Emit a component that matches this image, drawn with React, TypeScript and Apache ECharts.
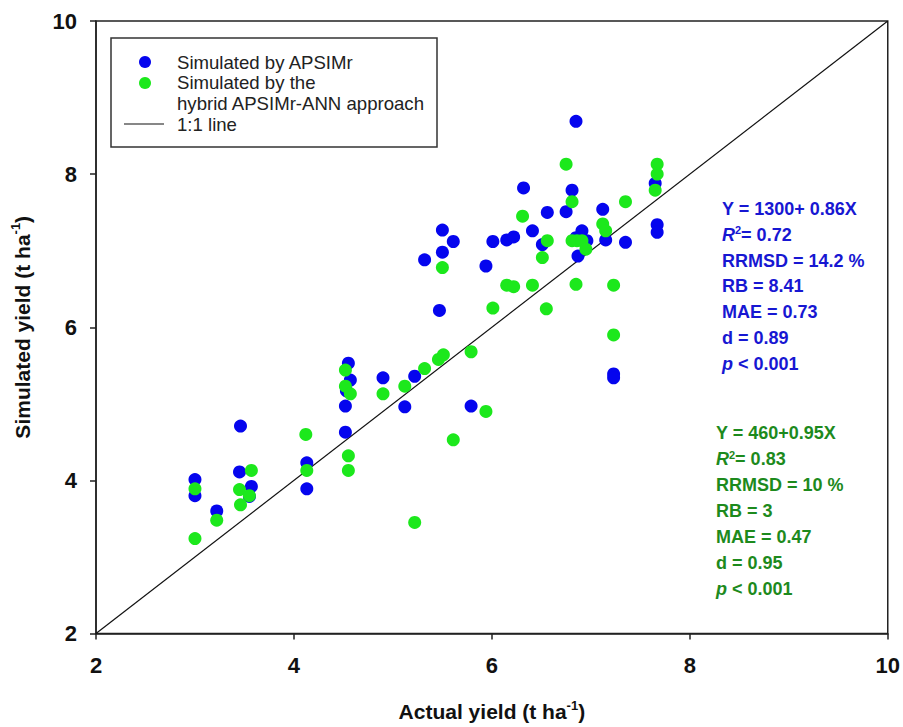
import React, { useEffect, useRef } from "react";
import * as echarts from "echarts";

// Actual vs simulated yield (t ha-1)
const apsimActual = [3.0, 3.0, 3.22, 3.46, 3.45, 3.57, 3.55, 4.13, 4.13, 4.55, 4.57, 4.53, 4.52, 4.52, 4.9, 5.12, 5.22, 5.47, 5.5, 5.61, 5.5, 5.32, 5.94, 6.01, 6.15, 6.22, 6.56, 6.75, 6.41, 6.51, 6.85, 6.91, 6.96, 6.87, 7.12, 7.15, 7.35, 6.85, 7.65, 6.32, 6.81, 7.67, 7.67, 7.23, 7.23, 5.79];
const apsimSimulated = [4.01, 3.8, 3.6, 4.71, 4.11, 3.92, 3.79, 4.23, 3.89, 5.53, 5.31, 5.17, 4.97, 4.63, 5.34, 4.96, 5.36, 6.22, 7.27, 7.12, 6.98, 6.88, 6.8, 7.12, 7.14, 7.18, 7.5, 7.51, 7.26, 7.08, 7.17, 7.26, 7.13, 6.93, 7.54, 7.14, 7.11, 8.69, 7.88, 7.82, 7.79, 7.34, 7.24, 5.39, 5.34, 4.97];

const hybridActual = [3.0, 3.0, 3.22, 3.45, 3.46, 3.57, 3.55, 4.13, 4.12, 4.52, 4.52, 4.57, 4.55, 4.55, 4.9, 5.12, 5.32, 5.46, 5.51, 5.79, 6.01, 6.55, 6.15, 6.22, 6.41, 6.85, 7.23, 7.23, 5.5, 6.31, 6.56, 6.51, 6.81, 6.86, 6.91, 6.95, 6.81, 7.12, 7.15, 7.35, 6.75, 7.67, 7.67, 7.65, 5.94, 5.61, 5.22];
const hybridSimulated = [3.89, 3.24, 3.48, 3.88, 3.68, 4.13, 3.8, 4.13, 4.6, 5.44, 5.23, 5.13, 4.32, 4.13, 5.13, 5.23, 5.46, 5.58, 5.64, 5.68, 6.25, 6.24, 6.55, 6.53, 6.55, 6.56, 6.55, 5.9, 6.78, 7.45, 7.13, 6.91, 7.13, 7.13, 7.13, 7.02, 7.64, 7.35, 7.26, 7.64, 8.13, 8.13, 8.0, 7.79, 4.9, 4.53, 3.45];

const oneToOne = [2, 10];
const axisTicks = [2, 4, 6, 8, 10];

const legendLabels = ["Simulated by APSIMr", "Simulated by the", "hybrid APSIMr-ANN approach", "1:1 line"];
const apsimStats = ["Y = 1300+ 0.86X", "R2|= 0.72", "RRMSD = 14.2 %", "RB = 8.41", "MAE = 0.73", "d = 0.89", "p|< 0.001"];
const hybridStats = ["Y = 460+0.95X", "R2|= 0.83", "RRMSD = 10 %", "RB = 3", "MAE = 0.47", "d = 0.95", "p|< 0.001"];

const FONT = "'Liberation Sans', Arial, Helvetica, sans-serif";
const BLUE = "#0505ee";
const GREEN = "#1ce81c";
const BLUE_TEXT = "#1717d2";
const GREEN_TEXT = "#1d8a1d";

function statText(line: string, color: string, x: number, y: number) {
  const fs = 18;
  const rich = {
    b: { fontFamily: FONT, fontWeight: "bold", fontSize: fs, fill: color, color },
    i: { fontFamily: FONT, fontWeight: "bold", fontStyle: "italic", fontSize: fs, fill: color, color },
    s: { fontFamily: FONT, fontWeight: "bold", fontSize: 11, fill: color, color, verticalAlign: "top", lineHeight: 20 },
  };
  let text: string;
  if (line.startsWith("R2|")) {
    text = "{i|R}{s|2}{b|" + line.slice(3) + "}";
  } else if (line.startsWith("p|")) {
    text = "{i|p }{b|" + line.slice(2) + "}";
  } else {
    text = "{b|" + line + "}";
  }
  return {
    type: "text",
    x,
    y,
    silent: true,
    style: {
      text,
      rich,
      fill: color,
      font: `bold ${fs}px ${FONT}`,
      verticalAlign: "middle",
      align: "left",
    },
  };
}

export default function App() {
  const ref = useRef<HTMLDivElement>(null);

  useEffect(() => {
    if (!ref.current) return;
    const chart = echarts.init(ref.current, undefined, { renderer: "svg" });

    const blueData = apsimActual.map((x, i) => [x, apsimSimulated[i]]);
    const greenData = hybridActual.map((x, i) => [x, hybridSimulated[i]]);
    const lineData = oneToOne.map((v) => [v, v]);

    const graphics: any[] = [
      {
        type: "rect",
        shape: { x: 111, y: 38, width: 326, height: 109 },
        style: { fill: "#fff", stroke: "#333", lineWidth: 1.5 },
        z: 10,
      },
      { type: "circle", shape: { cx: 145, cy: 62, r: 6 }, style: { fill: BLUE }, z: 11 },
      { type: "circle", shape: { cx: 145, cy: 83, r: 6 }, style: { fill: GREEN }, z: 11 },
      { type: "line", shape: { x1: 124, y1: 124, x2: 164, y2: 124 }, style: { stroke: "#111", lineWidth: 1.2 }, z: 11 },
    ];
    const legendY = [62, 82, 103, 124];
    legendLabels.forEach((t, i) => {
      graphics.push({
        type: "text",
        x: 177,
        y: legendY[i],
        z: 11,
        style: { text: t, font: `18.6px ${FONT}`, fill: "#222", verticalAlign: "middle", align: "left" },
      });
    });
    apsimStats.forEach((l, i) => graphics.push(statText(l, BLUE_TEXT, 722, 209 + i * 25.8)));
    hybridStats.forEach((l, i) => graphics.push(statText(l, GREEN_TEXT, 716, 433 + i * 26)));

    const axisCommon = {
      type: "value",
      min: 2,
      max: 10,
      interval: 2,
      nameLocation: "middle",
      axisLine: { show: true, onZero: false, lineStyle: { color: "#222", width: 1.5 } },
      axisTick: { show: true, inside: false, length: 6, lineStyle: { color: "#222", width: 1.5 } },
      splitLine: { show: false },
      axisLabel: {
        fontFamily: FONT,
        fontWeight: "bold",
        fontSize: 22,
        color: "#111",
        formatter: (v: number) => (axisTicks.includes(v) ? String(v) : ""),
      },
    };
    const nameStyle = {
      fontFamily: FONT,
      fontWeight: "bold",
      fontSize: 21,
      color: "#111",
      rich: {
        n: { fontFamily: FONT, fontWeight: "bold", fontSize: 21, color: "#111", lineHeight: 26 },
        sup: { fontFamily: FONT, fontWeight: "bold", fontSize: 13, color: "#111", verticalAlign: "top", lineHeight: 26 },
      },
    };

    chart.setOption({
      animation: false,
      backgroundColor: "#fff",
      grid: {
        left: 96,
        right: 13,
        top: 21,
        bottom: 87,
        show: true,
        borderColor: "#222",
        borderWidth: 1.5,
        containLabel: false,
      },
      xAxis: {
        ...axisCommon,
        name: "{n|Actual yield (t ha}{sup|-1}{n|)}",
        nameGap: 65,
        nameTextStyle: nameStyle,
        axisLabel: { ...axisCommon.axisLabel, margin: 21 },
      },
      yAxis: {
        ...axisCommon,
        name: "{n|Simulated yield (t ha}{sup|-1}{n|)}",
        nameGap: 61,
        nameTextStyle: nameStyle,
        axisLabel: { ...axisCommon.axisLabel, margin: 19 },
      },
      series: [
        {
          name: "1:1 line",
          type: "line",
          data: lineData,
          symbol: "none",
          lineStyle: { color: "#111", width: 1.2 },
          z: 1,
          silent: true,
        },
        {
          name: "Simulated by APSIMr",
          type: "scatter",
          data: blueData,
          symbolSize: 13,
          itemStyle: { color: BLUE, opacity: 1 },
          z: 2,
        },
        {
          name: "Simulated by the hybrid APSIMr-ANN approach",
          type: "scatter",
          data: greenData,
          symbolSize: 13,
          itemStyle: { color: GREEN, opacity: 1 },
          z: 3,
        },
      ],
      graphic: graphics,
    });

    return () => chart.dispose();
  }, []);

  return (
    <div
      ref={ref}
      style={{ position: "fixed", left: 0, top: 0, width: 903, height: 727, background: "#fff" }}
    />
  );
}
